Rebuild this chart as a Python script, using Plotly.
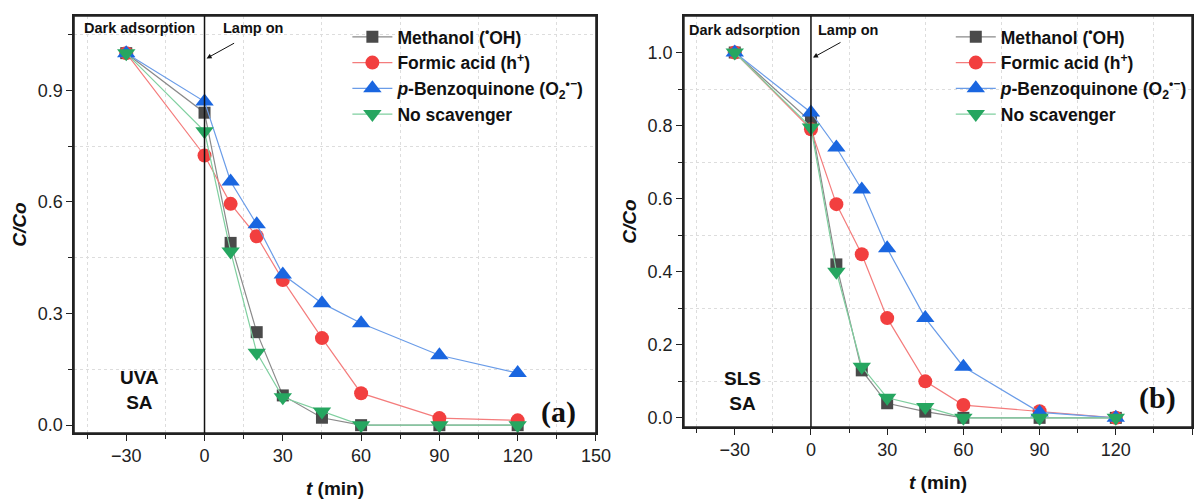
import plotly.graph_objects as go

# === Data ===
t_min = [-30, 0, 10, 20, 30, 45, 60, 90, 120]

# (a) UVA / SA
uva_methanol = [1.0, 0.84, 0.49, 0.25, 0.08, 0.02, 0.0, 0.0, 0.0]
uva_formic = [1.0, 0.725, 0.595, 0.508, 0.39, 0.234, 0.086, 0.019, 0.013]
uva_bq = [1.0, 0.87, 0.655, 0.54, 0.405, 0.328, 0.274, 0.188, 0.14]
uva_none = [1.0, 0.79, 0.467, 0.195, 0.075, 0.037, 0.0, 0.0, 0.0]

# (b) SLS / SA
sls_methanol = [1.0, 0.81, 0.42, 0.13, 0.04, 0.017, 0.0, 0.0, 0.0]
sls_formic = [1.0, 0.79, 0.585, 0.448, 0.273, 0.1, 0.035, 0.018, 0.0]
sls_bq = [1.0, 0.836, 0.74, 0.625, 0.464, 0.273, 0.14, 0.015, 0.0]
sls_none = [1.0, 0.795, 0.40, 0.14, 0.055, 0.03, 0.0, 0.0, 0.0]

names = [
    "<b>Methanol (<sup>•</sup>OH)</b>",
    "<b>Formic acid (h<sup>+</sup>)</b>",
    "<b><i>p</i>-Benzoquinone (O<sub>2</sub><sup>•−</sup>)</b>",
    "<b>No scavenger</b>",
]
marker_colors = ["#4a4a4a", "#f23f3f", "#1a66e0", "#26a660"]
line_colors = ["#8a8a8a", "#f47c7c", "#6a9ce8", "#7fcf9f"]
symbols = ["square", "circle", "triangle-up", "triangle-down"]
sizes = [12, 14, 16, 16]

panels = [
    dict(series=[uva_methanol, uva_formic, uva_bq, uva_none], xa="x", ya="y", legend="legend"),
    dict(series=[sls_methanol, sls_formic, sls_bq, sls_none], xa="x2", ya="y2", legend="legend2"),
]

fig = go.Figure()
for p in panels:
    for i, vals in enumerate(p["series"]):
        fig.add_trace(go.Scatter(
            x=t_min, y=vals, mode="lines+markers", name=names[i],
            xaxis=p["xa"], yaxis=p["ya"], legend=p["legend"],
            line=dict(color=line_colors[i], width=1.2),
            marker=dict(symbol=symbols[i], size=sizes[i], color=marker_colors[i]),
        ))

tick_font = dict(family="Arial", size=18, color="#222")

def xaxis_cfg(domain, anchor):
    return dict(
        domain=domain, anchor=anchor, range=[-50, 150], tickvals=[-30, 0, 30, 60, 90, 120, 150],
        ticktext=["−30", "0", "30", "60", "90", "120", "150"],
        showline=True, linecolor="#222", linewidth=1.5, mirror=True, automargin=False,
        ticks="outside", ticklen=6, tickcolor="#222", showgrid=False, zeroline=False,
        tickfont=tick_font,
        minor=dict(tickvals=[-45, -15, 15, 45, 75, 105, 135], ticks="outside", ticklen=4,
                   tickcolor="#222", showgrid=True, gridcolor="#dddddd", griddash="dot"),
        title=dict(text="<b><i>t</i> (min)</b>", font=dict(family="Arial", size=19, color="#111"), standoff=16),
    )

def yaxis_cfg(domain, anchor, rng, major, minor):
    return dict(
        domain=domain, anchor=anchor, range=rng, tickvals=major,
        tickformat=".1f",
        showline=True, linecolor="#222", linewidth=1.5, mirror=True, automargin=False,
        ticks="outside", ticklen=6, tickcolor="#222", showgrid=False, zeroline=False,
        tickfont=tick_font,
        minor=dict(tickvals=minor, ticks="outside", ticklen=4, tickcolor="#222",
                   showgrid=True, gridcolor="#dddddd", griddash="dot"),
        title=dict(text="<b><i>C/Co</i></b>", font=dict(family="Arial", size=19, color="#111"), standoff=6),
    )

legend_cfg = dict(
    bgcolor="rgba(0,0,0,0)", font=dict(family="Arial", size=17.5, color="#111"),
    xanchor="left", yanchor="top", tracegroupgap=0, itemwidth=40,
)

x_dom = [[0.0616, 0.4958], [0.569, 0.9917]]
y_dom = [[0.1323, 0.968], [0.1443, 0.968]]

fig.update_layout(
    width=1202, height=499,
    margin=dict(l=0, r=0, t=0, b=0),
    paper_bgcolor="white", plot_bgcolor="white",
    xaxis=xaxis_cfg(x_dom[0], "y"),
    yaxis=yaxis_cfg(y_dom[0], "x", [-0.021, 1.1], [0, 0.3, 0.6, 0.9], [0.15, 0.45, 0.75, 1.05]),
    xaxis2=xaxis_cfg(x_dom[1], "y2"),
    yaxis2=yaxis_cfg(y_dom[1], "x2", [-0.025, 1.1], [0, 0.2, 0.4, 0.6, 0.8, 1.0], [0.1, 0.3, 0.5, 0.7, 0.9]),
    legend=dict(x=0.289, y=0.962, **legend_cfg),
    legend2=dict(x=0.791, y=0.962, **legend_cfg),
    showlegend=True,
)

# frames, lamp-on line and labels for each panel
panel_text = [
    ("x", "y", 0.126, 0.971, 0.343, 0.8, "<b>UVA<br>SA</b>", 0.126, 0.103, "<b>(a)</b>", 0.929, 0.05),
    ("x2", "y2", 0.12, 0.966, 0.323, 0.8, "<b>SLS<br>SA</b>", 0.116, 0.088, "<b>(b)</b>", 0.933, 0.07),
]
for k, (xa, ya, dx, dy, lx, arr_x, label, ux, uy, tag, tx, ty) in enumerate(panel_text):
    fig.add_shape(type="rect", xref="paper", yref="paper",
                  x0=x_dom[k][0], x1=x_dom[k][1], y0=y_dom[k][0], y1=y_dom[k][1],
                  line=dict(color="#222", width=1.5), layer="above")
    fig.add_shape(type="line", xref=xa, yref=ya + " domain", x0=0, x1=0, y0=0, y1=1,
                  line=dict(color="#111", width=1.5))
    fig.add_annotation(xref=xa + " domain", yref=ya + " domain", x=dx, y=dy,
                       text="<b>Dark adsorption</b>", showarrow=False,
                       xanchor="center", yanchor="middle",
                       font=dict(family="Arial", size=14.5, color="#111"))
    fig.add_annotation(xref=xa + " domain", yref=ya + " domain", x=lx, y=dy,
                       text="<b>Lamp on</b>", showarrow=False,
                       xanchor="center", yanchor="middle",
                       font=dict(family="Arial", size=14.5, color="#111"))
    fig.add_annotation(xref=xa, yref=ya, x=arr_x, y=0.986, ax=29, ay=-16, text="",
                       showarrow=True, arrowhead=2, arrowsize=1, arrowwidth=1, arrowcolor="#111")
    fig.add_annotation(xref=xa + " domain", yref=ya + " domain", x=ux, y=uy,
                       text=label, showarrow=False, xanchor="center", yanchor="middle",
                       font=dict(family="Arial", size=19, color="#111"))
    fig.add_annotation(xref=xa + " domain", yref=ya + " domain", x=tx, y=ty, text=tag,
                       showarrow=False, xanchor="center", yanchor="middle",
                       font=dict(family="Times New Roman, Liberation Serif", size=30, color="#111"))

fig.write_html("out.html", config={"displayModeBar": False},
               post_script="document.body.style.margin = '0';")
